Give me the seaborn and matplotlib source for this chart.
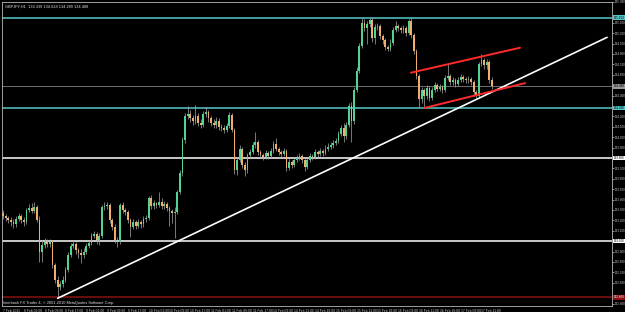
import numpy as np
import pandas as pd
import matplotlib
matplotlib.use("Agg")
import matplotlib.pyplot as plt
import matplotlib.transforms as mtransforms
import seaborn as sns

# ---------------- data ----------------
chart_title = "GBPJPY,H1  134.339 134.628 134.289 134.488"
footer_text = "Interbank FX Trader 4, \u00a9 2001-2010 MetaQuotes Software Corp."

first_open = 133.27
closes = [
    133.24, 133.22, 133.20, 133.18, 133.16, 133.21, 133.24, 133.20, 133.18, 133.30,
    133.32, 133.29, 133.33, 133.20, 132.90, 132.96, 132.99, 132.97, 132.99, 132.77,
    132.63, 132.56, 132.59, 132.63, 132.72, 132.87, 132.95, 132.97, 132.91, 132.89,
    132.87, 132.90, 132.95, 132.98, 133.05, 133.07, 133.01, 133.05, 133.33, 133.34,
    133.35, 133.20, 133.14, 133.01, 132.99, 133.35, 133.30, 133.28, 133.20, 133.14,
    133.18, 133.15, 133.18, 133.16, 133.21, 133.22, 133.41, 133.34, 133.37, 133.35,
    133.38, 133.34, 133.36, 133.32, 133.29, 133.27, 133.28, 133.47, 133.66, 133.97,
    134.20, 134.22, 134.18, 134.16, 134.20, 134.14, 134.12, 134.22, 134.24, 134.18,
    134.14, 134.12, 134.16, 134.10, 134.09, 134.07, 134.11, 134.21, 134.07, 133.68,
    133.78, 133.89, 133.73, 133.68, 133.83, 133.86, 133.92, 133.95, 133.86, 133.83,
    133.81, 133.85, 133.82, 133.87, 133.93, 133.89, 133.86, 133.84, 133.87, 133.70,
    133.76, 133.73, 133.78, 133.80, 133.82, 133.78, 133.71, 133.78, 133.82, 133.81,
    133.86, 133.84, 133.87, 133.85, 133.89, 133.91, 133.92, 133.94, 133.96, 134.03,
    134.09, 134.01, 134.12, 134.30, 134.16, 134.45, 134.64, 134.88, 135.10, 135.05,
    135.09, 135.13, 134.95, 135.06, 135.07, 134.97, 134.93, 134.87, 134.85, 134.91,
    135.03, 135.07, 135.05, 135.03, 135.05, 135.00, 135.12, 134.98, 134.83, 134.59,
    134.37, 134.45, 134.40, 134.47, 134.38, 134.45, 134.50, 134.46, 134.48, 134.45,
    134.57, 134.59, 134.53, 134.55, 134.51, 134.55, 134.58, 134.56, 134.55, 134.56,
    134.53, 134.43, 134.40, 134.70, 134.74, 134.69, 134.72, 134.55, 134.488,
]
highs = [
    133.30, 133.26, 133.24, 133.23, 133.21, 133.24, 133.27, 133.26, 133.23, 133.32,
    133.36, 133.37, 133.38, 133.35, 133.24, 133.01, 133.03, 133.02, 133.02, 133.01,
    132.79, 132.66, 132.62, 132.66, 132.75, 132.90, 132.98, 133.01, 132.99, 132.93,
    132.92, 132.93, 132.98, 133.01, 133.08, 133.10, 133.09, 133.08, 133.35, 133.38,
    133.38, 133.37, 133.22, 133.16, 133.04, 133.37, 133.38, 133.32, 133.30, 133.22,
    133.21, 133.20, 133.21, 133.20, 133.24, 133.25, 133.43, 133.44, 133.40, 133.38,
    133.47, 133.41, 133.39, 133.38, 133.34, 133.31, 133.33, 133.49, 133.68, 134.00,
    134.23, 134.30, 134.26, 134.21, 134.31, 134.23, 134.17, 134.25, 134.29, 134.26,
    134.20, 134.17, 134.19, 134.18, 134.13, 134.12, 134.14, 134.24, 134.23, 134.09,
    133.81, 133.92, 133.91, 133.76, 133.85, 133.89, 133.95, 134.05, 133.97, 133.88,
    133.85, 133.88, 133.87, 133.90, 133.96, 133.99, 133.91, 133.88, 133.90, 133.89,
    133.79, 133.78, 133.80, 133.83, 133.85, 133.84, 133.80, 133.80, 133.85, 133.84,
    133.89, 133.88, 133.90, 133.89, 133.92, 133.94, 133.95, 133.97, 133.99, 134.06,
    134.12, 134.14, 134.15, 134.33, 134.34, 134.48, 134.67, 134.91, 135.15, 135.14,
    135.12, 135.15, 135.15, 135.09, 135.10, 135.09, 134.99, 134.95, 134.89, 134.94,
    135.06, 135.12, 135.09, 135.07, 135.08, 135.07, 135.14, 135.16, 135.00, 134.85,
    134.61, 134.48, 134.47, 134.50, 134.49, 134.48, 134.53, 134.52, 134.51, 134.50,
    134.60, 134.71, 134.61, 134.58, 134.57, 134.58, 134.61, 134.60, 134.58, 134.59,
    134.58, 134.55, 134.45, 134.72, 134.80, 134.76, 134.75, 134.74, 134.58,
]
lows = [
    133.21, 133.19, 133.17, 133.15, 133.13, 133.14, 133.19, 133.17, 133.15, 133.16,
    133.28, 133.27, 133.27, 133.18, 132.80, 132.80, 132.93, 132.94, 132.94, 132.74,
    132.60, 132.45, 132.53, 132.56, 132.61, 132.70, 132.85, 132.93, 132.88, 132.84,
    132.79, 132.84, 132.88, 132.93, 132.96, 133.03, 132.97, 132.96, 133.03, 133.30,
    133.31, 133.17, 133.11, 132.98, 132.94, 132.97, 133.27, 133.25, 133.17, 133.04,
    133.12, 133.12, 133.13, 133.13, 133.14, 133.18, 133.20, 133.31, 133.31, 133.32,
    133.33, 133.31, 133.31, 133.29, 133.15, 133.17, 133.03, 133.26, 133.45, 133.63,
    133.94, 134.17, 134.15, 134.12, 134.13, 134.11, 134.09, 134.10, 134.19, 134.15,
    134.11, 134.09, 134.09, 134.07, 134.06, 134.04, 134.05, 134.09, 134.05, 133.65,
    133.64, 133.76, 133.70, 133.63, 133.66, 133.80, 133.84, 133.90, 133.83, 133.80,
    133.78, 133.79, 133.79, 133.80, 133.85, 133.87, 133.83, 133.81, 133.82, 133.67,
    133.68, 133.70, 133.71, 133.76, 133.78, 133.75, 133.67, 133.69, 133.76, 133.78,
    133.79, 133.81, 133.82, 133.82, 133.83, 133.87, 133.89, 133.90, 133.92, 133.94,
    134.01, 133.95, 133.98, 134.10, 133.95, 134.13, 134.43, 134.62, 134.86, 135.02,
    134.90, 135.06, 134.92, 134.90, 135.03, 134.94, 134.90, 134.84, 134.83, 134.83,
    134.89, 135.01, 135.02, 135.00, 135.00, 134.97, 134.98, 134.95, 134.80, 134.56,
    134.29, 134.33, 134.29, 134.37, 134.35, 134.36, 134.43, 134.44, 134.44, 134.42,
    134.43, 134.55, 134.50, 134.50, 134.48, 134.49, 134.53, 134.53, 134.52, 134.52,
    134.50, 134.40, 134.38, 134.38, 134.68, 134.66, 134.66, 134.52, 134.46,
]

time_labels = [
    "7 Feb 2011", "8 Feb 01:00", "8 Feb 09:00", "8 Feb 17:00", "9 Feb 01:00",
    "9 Feb 09:00", "9 Feb 17:00", "10 Feb 01:00", "10 Feb 09:00", "10 Feb 17:00",
    "11 Feb 01:00", "11 Feb 09:00", "11 Feb 17:00", "14 Feb 03:00", "14 Feb 11:00",
    "14 Feb 19:00", "15 Feb 03:00", "15 Feb 11:00", "15 Feb 19:00", "16 Feb 03:00",
    "16 Feb 11:00", "16 Feb 19:00", "17 Feb 03:00", "17 Feb 11:00",
]
bars_per_label = 8

cyan_levels = [135.15, 134.28]
white_levels = [133.80, 133.00]
bid_level = 134.488
red_level = 132.46

trend_bar = [21.0, 232.3]
trend_price = [132.45, 134.96]
chan_up_bar = [156.9, 198.8]
chan_up_price = [134.62, 134.86]
chan_lo_bar = [161.9, 200.8]
chan_lo_price = [134.28, 134.52]

# ---------------- frame ----------------
df = pd.DataFrame({"close": closes, "high": highs, "low": lows})
df["bar"] = np.arange(len(df))
df["open"] = [first_open] + closes[:-1]
df["high"] = np.maximum(df["high"], df[["open", "close"]].max(axis=1))
df["low"] = np.minimum(df["low"], df[["open", "close"]].min(axis=1))
df["bull"] = df["close"] >= df["open"]

sns.set_theme(style="dark", rc={
    "axes.facecolor": "black", "figure.facecolor": "black",
    "axes.edgecolor": "#b8b8b8", "text.color": "#d0d0d0",
    "xtick.color": "#c8c8c8", "ytick.color": "#c8c8c8",
})
plt.rcParams["font.family"] = ["Liberation Sans", "DejaVu Sans"]

W, H = 625, 312
fig = plt.figure(figsize=(W / 100, H / 100), dpi=100)
ax = fig.add_axes([2 / W, 6 / H, 610 / W, 304 / H])
ax.set_facecolor("black")

# horizontal levels
for lv in cyan_levels:
    ax.axhline(lv, color="#55c8c8", lw=1.1, zorder=1)
for lv in white_levels:
    ax.axhline(lv, color="#ffffff", lw=1.1, zorder=1)
ax.axhline(bid_level, color="#6e6e6e", lw=0.7, zorder=1)
ax.axhline(red_level, color="#8a1010", lw=1.1, zorder=1)

# candles
bull_c, bear_c = "#52d394", "#f0ae6c"
ax.vlines(df["bar"], df["low"], df["high"], color="#a8a8a8", lw=0.5, zorder=2)
body = (df["close"] - df["open"]).to_numpy()
body = np.where(np.abs(body) < 0.004, 0.004, body)
ax.bar(df["bar"], body, bottom=df["open"], width=0.72,
       color=np.where(df["bull"], bull_c, bear_c), linewidth=0, zorder=3)

# trend lines (seaborn)
sns.lineplot(x=trend_bar, y=trend_price, ax=ax, color="white", lw=1.2, zorder=4)
sns.lineplot(x=chan_up_bar, y=chan_up_price, ax=ax, color="#ff2a2a", lw=1.4, zorder=4)
sns.lineplot(x=chan_lo_bar, y=chan_lo_price, ax=ax, color="#ff2a2a", lw=1.4, zorder=4)

# limits
ax.set_xlim(-0.4, 234.2)
ax.set_ylim(132.376, 135.295)

# axes styling
for s in ax.spines.values():
    s.set_color("#b8b8b8")
    s.set_linewidth(0.6)
ax.yaxis.tick_right()
levels_all = cyan_levels + white_levels + [bid_level, red_level]
yt = np.round(np.arange(132.4, 135.3, 0.1), 1)
yt = [v for v in yt if min(abs(v - lv) for lv in levels_all) > 0.05]
ax.set_yticks(yt)
ax.set_yticklabels([f"{v:.3f}" for v in yt], fontsize=2.2)
ax.tick_params(axis="y", length=1.5, width=0.5, pad=0.4, colors="#c8c8c8")
ax.set_xticks(np.arange(len(time_labels)) * bars_per_label)
ax.set_xticklabels(time_labels, fontsize=2.4, ha="left")
ax.tick_params(axis="x", length=2, width=0.5, pad=0.5, colors="#c8c8c8")
ax.set_xlabel("")
ax.set_ylabel("")
ax.grid(False)

# level price boxes on the right axis
trans = mtransforms.blended_transform_factory(ax.transAxes, ax.transData)
def level_box(val, face, txt="black"):
    ax.text(1.0025, val, f"{val:.3f}", transform=trans, fontsize=2.2, color=txt,
            va="center", ha="left", clip_on=False, zorder=6,
            bbox=dict(boxstyle="square,pad=0.12", fc=face, ec="none"))
for lv in cyan_levels:
    level_box(lv, "#55c8c8")
for lv in white_levels:
    level_box(lv, "#ffffff")
level_box(bid_level, "#9a9a9a")
level_box(red_level, "#8a1010", txt="white")

# header and footer text
ax.text(0.005, 0.993, chart_title, transform=ax.transAxes, fontsize=2.8,
        color="#e0e0e0", va="top", ha="left", zorder=6)
ax.text(0.002, 0.004, footer_text, transform=ax.transAxes, fontsize=2.8,
        color="#e0e0e0", va="bottom", ha="left", zorder=6)

fig.savefig("out.png", dpi=100, facecolor="black")
